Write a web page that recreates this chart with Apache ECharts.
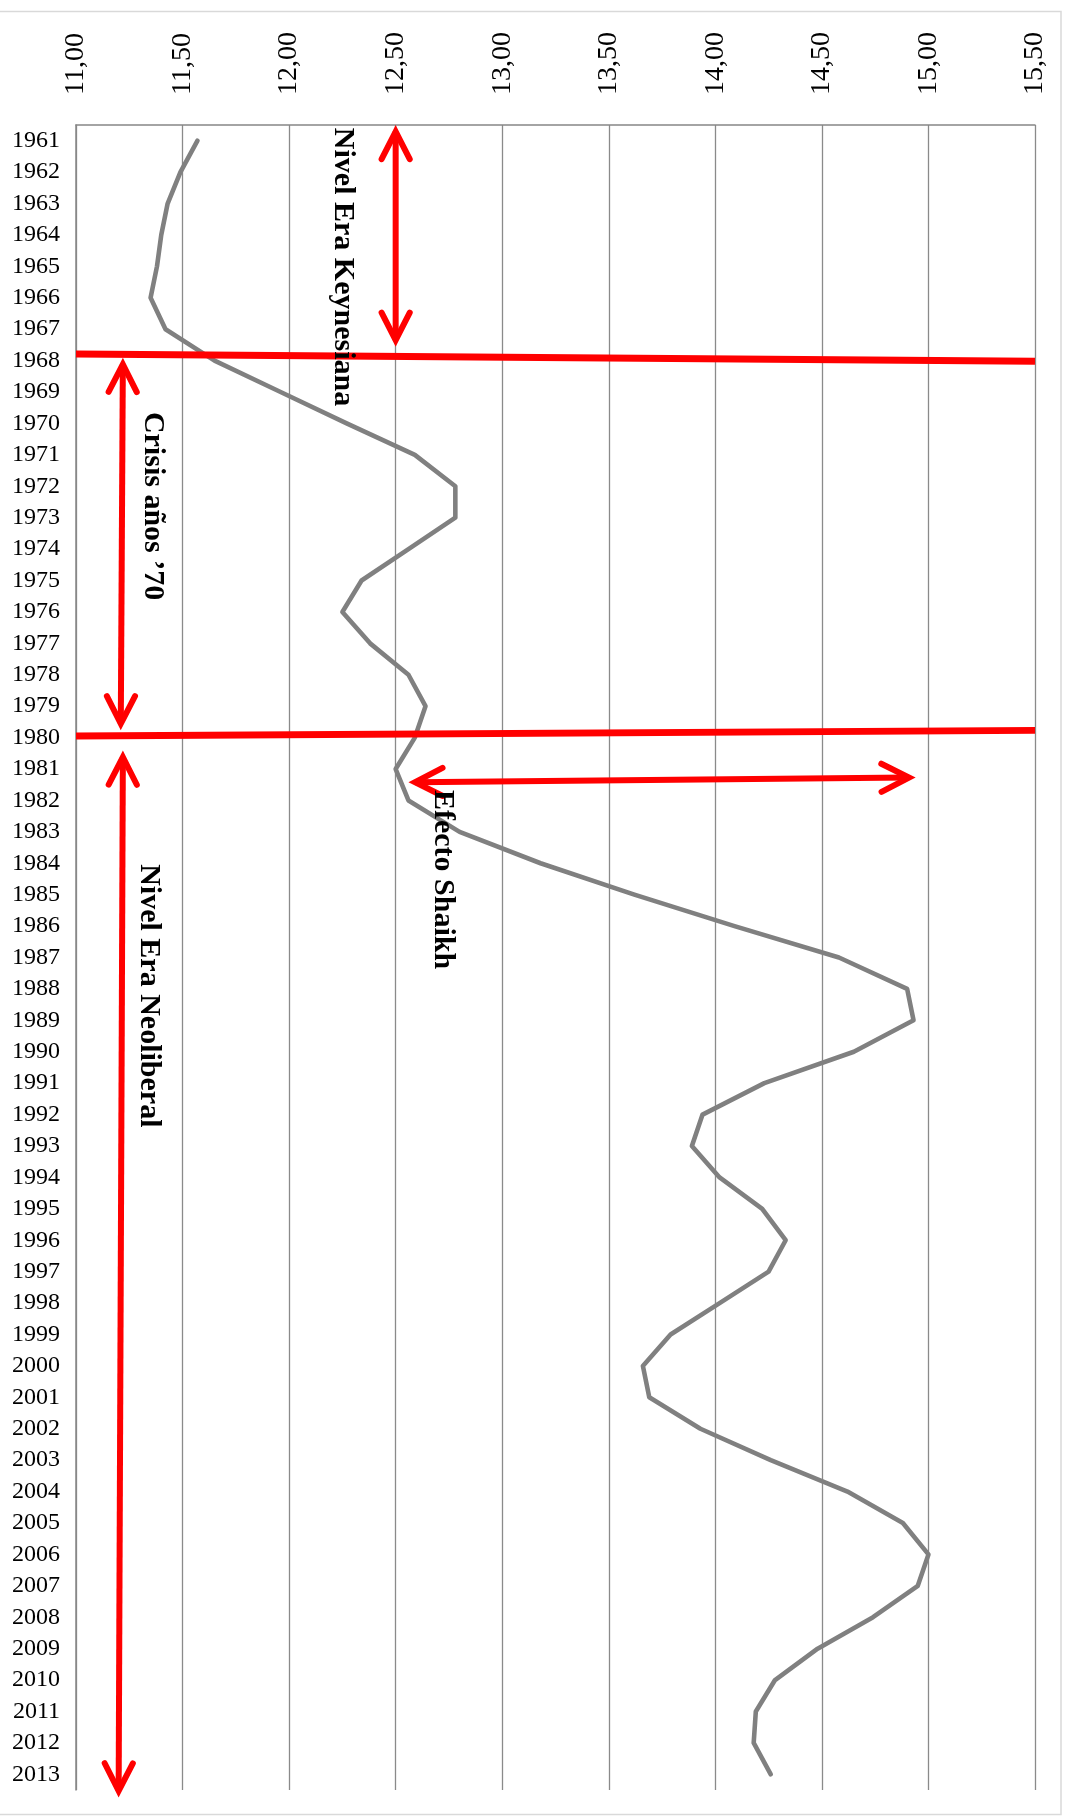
<!DOCTYPE html>
<html>
<head>
<meta charset="utf-8">
<script src="https://cdn.jsdelivr.net/npm/echarts@6/dist/echarts.min.js"></script>
<style>
  html, body { margin: 0; padding: 0; background: #ffffff; }
  #chart { width: 1070px; height: 1816px; }
</style>
</head>
<body>
<div id="chart"></div>
<script>
// Years on the vertical category axis (top to bottom)
const years = [
  '1961','1962','1963','1964','1965','1966','1967','1968','1969','1970',
  '1971','1972','1973','1974','1975','1976','1977','1978','1979','1980',
  '1981','1982','1983','1984','1985','1986','1987','1988','1989','1990',
  '1991','1992','1993','1994','1995','1996','1997','1998','1999','2000',
  '2001','2002','2003','2004','2005','2006','2007','2008','2009','2010',
  '2011','2012','2013'
];

// Series values, one per year
const rate = [
  11.57, 11.49, 11.43, 11.40, 11.38, 11.35, 11.42, 11.65, 11.96, 12.27,
  12.59, 12.78, 12.78, 12.56, 12.34, 12.25, 12.38, 12.56, 12.64, 12.59,
  12.50, 12.56, 12.80, 13.18, 13.62, 14.09, 14.58, 14.90, 14.93, 14.65,
  14.23, 13.94, 13.89, 14.02, 14.22, 14.33, 14.25, 14.02, 13.79, 13.66,
  13.69, 13.93, 14.26, 14.62, 14.88, 15.00, 14.95, 14.74, 14.48, 14.28,
  14.19, 14.18, 14.26
];

// Value axis ticks and their printed labels
const valueTicks = [11, 11.5, 12, 12.5, 13, 13.5, 14, 14.5, 15, 15.5];
const valueTickLabels = ['11,00','11,50','12,00','12,50','13,00','13,50','14,00','14,50','15,00','15,50'];

// Period separators: [value start, year start, value end, year end]
const separatorLines = [
  [11.00, 1967.79, 15.50, 1968.02],
  [11.00, 1979.95, 15.50, 1979.77]
];

// Double-headed arrows: [value start, year start, value end, year end]
const periodArrows = [
  [12.50, 1960.50, 12.50, 1967.56],
  [11.22, 1967.91, 11.21, 1979.77],
  [11.22, 1980.41, 11.20, 2013.74],
  [12.56, 1981.42, 14.94, 1981.27]
];

// Annotation texts and where they sit (value, year)
const noteTexts = ['Nivel Era Keynesiana', 'Crisis años ’70', 'Efecto Shaikh', 'Nivel Era Neoliberal'];
const noteValue = [12.25, 11.36, 12.72, 11.34];
const noteYear  = [1965.02, 1972.63, 1984.52, 1988.22];

const RED = '#ff0000';
const SERIF = '"Liberation Serif", "DejaVu Serif", serif';

function renderSeparator(params, api) {
  const a = api.coord([api.value(0), api.value(1)]);
  const b = api.coord([api.value(2), api.value(3)]);
  return {
    type: 'line',
    shape: { x1: a[0], y1: a[1], x2: b[0], y2: b[1] },
    style: { stroke: RED, lineWidth: 6.8, lineCap: 'butt' }
  };
}

function renderArrow(params, api) {
  const a = api.coord([api.value(0), api.value(1)]);
  const b = api.coord([api.value(2), api.value(3)]);
  const w = 6;
  const headLen = 31;
  const theta = 27 * Math.PI / 180;
  const dx = b[0] - a[0], dy = b[1] - a[1];
  const len = Math.sqrt(dx * dx + dy * dy);
  const ux = dx / len, uy = dy / len;
  const back = (w / 2) / Math.sin(theta);

  function head(tip, dirx, diry) {
    // dir points toward the tip
    const vx = tip[0] - dirx * back, vy = tip[1] - diry * back;
    const c = Math.cos(theta), s = Math.sin(theta);
    const r1x = dirx * c - diry * s, r1y = dirx * s + diry * c;
    const r2x = dirx * c + diry * s, r2y = -dirx * s + diry * c;
    return {
      vertex: [vx, vy],
      el: {
        type: 'polyline',
        shape: { points: [[vx - r1x * headLen, vy - r1y * headLen], [vx, vy], [vx - r2x * headLen, vy - r2y * headLen]] },
        style: { stroke: RED, fill: null, lineWidth: w, lineCap: 'round', lineJoin: 'miter', miterLimit: 10 }
      }
    };
  }
  const hEnd = head(b, ux, uy);
  const hStart = head(a, -ux, -uy);
  return {
    type: 'group',
    children: [
      {
        type: 'line',
        shape: { x1: hStart.vertex[0], y1: hStart.vertex[1], x2: hEnd.vertex[0], y2: hEnd.vertex[1] },
        style: { stroke: RED, lineWidth: w, lineCap: 'butt' }
      },
      hStart.el,
      hEnd.el
    ]
  };
}

function renderNote(params, api) {
  const p = api.coord([api.value(0), api.value(1)]);
  return {
    type: 'text',
    x: p[0],
    y: p[1],
    rotation: -Math.PI / 2,
    style: {
      text: noteTexts[params.dataIndex],
      fontFamily: SERIF,
      fontSize: 30,
      fontWeight: 'bold',
      fill: '#000000',
      align: 'center',
      verticalAlign: 'middle'
    }
  };
}

const chart = echarts.init(document.getElementById('chart'), null, { renderer: 'canvas' });

chart.setOption({
  animation: false,
  backgroundColor: '#ffffff',
  graphic: [{
    type: 'rect',
    shape: { x: -2, y: 11.5, width: 1063, height: 1803 },
    style: { fill: null, stroke: '#d9d9d9', lineWidth: 1.5 },
    silent: true,
    z: -10
  }],
  grid: { left: 76, right: 35, top: 125, bottom: 26, containLabel: false },
  xAxis: {
    type: 'value',
    position: 'top',
    min: valueTicks[0],
    max: valueTicks[valueTicks.length - 1],
    interval: valueTicks[1] - valueTicks[0],
    axisLine: { show: true, lineStyle: { color: '#878787', width: 1.5 } },
    axisTick: { show: false },
    splitLine: { show: true, lineStyle: { color: '#8a8a8a', width: 1.3 } },
    axisLabel: {
      rotate: -90,
      margin: 30,
      fontSize: 28,
      fontFamily: SERIF,
      color: '#000000',
      formatter: function (v) {
        const i = valueTicks.findIndex(function (t) { return Math.abs(t - v) < 1e-9; });
        return i >= 0 ? valueTickLabels[i] : '';
      }
    }
  },
  yAxis: [
    {
      type: 'category',
      data: years,
      inverse: true,
      boundaryGap: true,
      axisLine: { show: true, lineStyle: { color: '#878787', width: 1.5 } },
      axisTick: { show: false },
      splitLine: { show: false },
      axisLabel: {
        interval: 0,
        margin: 16,
        fontSize: 24,
        fontFamily: SERIF,
        color: '#000000'
      }
    },
    {
      type: 'value',
      min: 1960.5,
      max: 2013.5,
      inverse: true,
      show: false,
      splitLine: { show: false }
    }
  ],
  series: [
    {
      type: 'line',
      data: rate,
      yAxisIndex: 0,
      symbol: 'none',
      smooth: false,
      lineStyle: { color: '#808080', width: 4.6, cap: 'round', join: 'round' },
      z: 2
    },
    {
      type: 'custom',
      yAxisIndex: 1,
      renderItem: renderSeparator,
      data: separatorLines,
      encode: { x: [0, 2], y: [1, 3] },
      clip: false,
      silent: true,
      z: 3
    },
    {
      type: 'custom',
      yAxisIndex: 1,
      renderItem: renderArrow,
      data: periodArrows,
      encode: { x: [0, 2], y: [1, 3] },
      clip: false,
      silent: true,
      z: 4
    },
    {
      type: 'custom',
      yAxisIndex: 1,
      renderItem: renderNote,
      data: noteValue.map(function (v, i) { return [v, noteYear[i]]; }),
      encode: { x: 0, y: 1 },
      clip: false,
      silent: true,
      z: 5
    }
  ]
});
</script>
</body>
</html>
